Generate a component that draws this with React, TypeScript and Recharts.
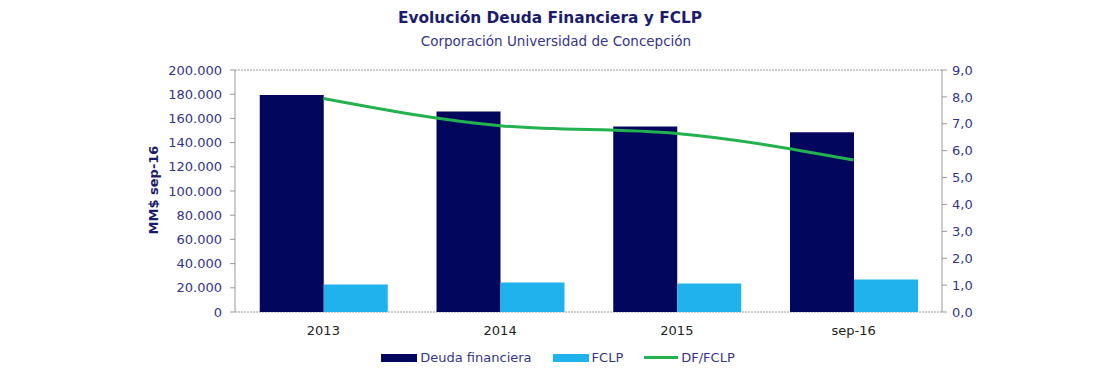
import React from 'react';
import { ComposedChart, Bar, Line, XAxis, YAxis, CartesianGrid, Legend } from 'recharts';

const periods = ['2013', '2014', '2015', 'sep-16'];
const deudaFinanciera = [179300, 165700, 153300, 148500];
const fclp = [22800, 24300, 23600, 26800];
const ratio = [7.94, 6.93, 6.64, 5.65];

const leftTicks = [0, 20000, 40000, 60000, 80000, 100000, 120000, 140000, 160000, 180000, 200000];
const rightTicks = [0, 1, 2, 3, 4, 5, 6, 7, 8, 9];
const legendOrder = ['Deuda financiera', 'FCLP', 'DF/FCLP'];

const NAVY = '#02065c';
const LIGHT = '#1fb2ec';
const GREEN = '#23b24f';
const TICK = '#34348c';
const FONT = '"DejaVu Sans", Verdana, sans-serif';

const data = periods.map((p, i) => ({
  name: p,
  idx: i + 0.5,
  deuda: deudaFinanciera[i],
  fclp: fclp[i],
  ratio: ratio[i],
}));

const fmtLeft = (v: number) => (v === 0 ? '0' : v.toLocaleString('de-DE'));
const fmtRight = (v: number) => v.toFixed(1).replace('.', ',');

const renderLegend = (props: any) => {
  const payload = [...(props.payload || [])]
    .filter((e: any) => legendOrder.includes(e.value))
    .sort((a: any, b: any) => legendOrder.indexOf(a.value) - legendOrder.indexOf(b.value));
  return (
    <div style={{ display: 'flex', justifyContent: 'center', alignItems: 'center', fontFamily: FONT, fontSize: 13, color: TICK }}>
      {payload.map((entry: any, i: number) => (
        <div key={`leg-${i}`} style={{ display: 'flex', alignItems: 'center', marginRight: i < payload.length - 1 ? 21 : 0 }}>
          {entry.type === 'line' ? (
            <div style={{ width: 34, height: 3, background: entry.color, marginRight: 3 }} />
          ) : (
            <div style={{ width: 36, height: 8, background: entry.color, marginRight: 3 }} />
          )}
          <span>{entry.value}</span>
        </div>
      ))}
    </div>
  );
};

export default function App() {
  return (
    <div style={{ position: 'absolute', left: 0, top: 0, width: 1108, height: 388, background: '#fff' }}>
      <div style={{ position: 'absolute', top: 9, left: -4, width: 1108, textAlign: 'center', fontFamily: FONT, fontWeight: 'bold', fontSize: 15.4, color: '#1c1c6c' }}>
        Evolución Deuda Financiera y FCLP
      </div>
      <div style={{ position: 'absolute', top: 33, left: 2, width: 1108, textAlign: 'center', fontFamily: FONT, fontSize: 13.5, color: '#34348c' }}>
        Corporación Universidad de Concepción
      </div>
      <div style={{ position: 'absolute', left: 153, top: 190, transform: 'translate(-50%, -50%) rotate(-90deg)', fontFamily: FONT, fontWeight: 'bold', fontSize: 13, color: '#1c1c6c', whiteSpace: 'nowrap' }}>
        MM$ sep-16
      </div>
      <ComposedChart
        width={1108}
        height={388}
        data={data}
        margin={{ top: 70, right: 106, bottom: 18, left: 155 }}
        barCategoryGap="14%"
        barGap={0}
        style={{ position: 'absolute', left: 0, top: 0 }}
      >
        <CartesianGrid vertical={false} stroke="#9a9a9a" strokeDasharray="2 1" />
        <XAxis
          xAxisId="bounds"
          dataKey="idx"
          type="number"
          domain={[0, 4]}
          ticks={[0, 1, 2, 3, 4]}
          height={0}
          tick={false}
          tickSize={5}
          tickLine={{ stroke: '#999' }}
          axisLine={{ stroke: '#999' }}
        />
        <XAxis
          dataKey="name"
          height={38}
          tickLine={false}
          axisLine={false}
          tick={{ fill: '#222', fontSize: 13, fontFamily: FONT }}
          tickMargin={8}
        />
        <YAxis
          yAxisId="left"
          width={80}
          domain={[0, 200000]}
          ticks={leftTicks}
          tickFormatter={fmtLeft}
          interval={0}
          axisLine={{ stroke: '#999' }}
          tickLine={{ stroke: '#999' }}
          tickSize={5}
          tickMargin={8}
          tick={{ fill: TICK, fontSize: 13, fontFamily: FONT }}
        />
        <YAxis
          yAxisId="right"
          orientation="right"
          width={60}
          domain={[0, 9]}
          ticks={rightTicks}
          tickFormatter={fmtRight}
          interval={0}
          axisLine={{ stroke: '#999' }}
          tickLine={{ stroke: '#999' }}
          tickSize={5}
          tickMargin={5}
          tick={{ fill: TICK, fontSize: 13, fontFamily: FONT }}
        />
        <Bar yAxisId="left" dataKey="deuda" name="Deuda financiera" fill={NAVY} isAnimationActive={false} />
        <Bar yAxisId="left" dataKey="fclp" name="FCLP" fill={LIGHT} isAnimationActive={false} />
        <Line
          yAxisId="right"
          dataKey="ratio"
          name="DF/FCLP"
          type="monotone"
          stroke={GREEN}
          strokeWidth={3}
          dot={false}
          activeDot={false}
          legendType="line"
          isAnimationActive={false}
        />
        <Legend verticalAlign="bottom" content={renderLegend} wrapperStyle={{ height: 20, left: 4, width: 1108 }} />
      </ComposedChart>
    </div>
  );
}
